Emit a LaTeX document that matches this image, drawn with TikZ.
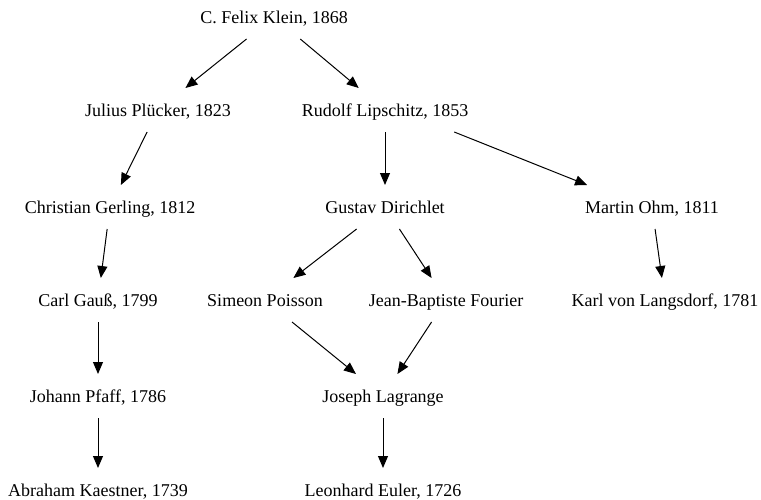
\documentclass[tikz,border=0pt]{standalone}
\usepackage{fontspec}
\setmainfont{Liberation Serif}
\usetikzlibrary{arrows.meta}
\tikzstyle{person}=[inner xsep=1pt, inner ysep=0pt, outer sep=0pt, minimum height=22pt, text height=6pt, text depth=0pt]
\tikzstyle{advisor}=[-{Triangle[length=6pt, width=5pt]}, line width=0.5pt]
\tikzstyle{genealogy}=[x=0.5pt, y=-0.5pt,
                       % Times-like labels as in the original graph.
                       every node/.style={font=\fontsize{9}{11}\selectfont}]
\begin{document}
\begin{tikzpicture}[genealogy]
        \useasboundingbox (0, 0) rectangle (761, 499);
        \node[person] (klein)     at (274, 17)  {C. Felix Klein, 1868};
        \node[person] (pluecker)  at (158, 110) {Julius Plücker, 1823};
        \node[person] (lipschitz) at (385, 110) {Rudolf Lipschitz, 1853};
        \node[person] (gerling)   at (110, 207) {Christian Gerling, 1812};
        \node[person] (dirichlet) at (385, 207) {Gustav Dirichlet};
        \node[person] (ohm)       at (652, 207) {Martin Ohm, 1811};
        \node[person] (gauss)     at (98, 300)  {Carl Gauß, 1799};
        \node[person] (poisson)   at (265, 300) {Simeon Poisson};
        \node[person] (fourier)   at (446, 300) {Jean-Baptiste Fourier};
        \node[person] (langsdorf) at (665, 300) {Karl von Langsdorf, 1781};
        \node[person] (pfaff)     at (98, 396)  {Johann Pfaff, 1786};
        \node[person] (lagrange)  at (383, 396) {Joseph Lagrange};
        \node[person] (kaestner)  at (98, 490)  {Abraham Kaestner, 1739};
        \node[person] (euler)     at (383, 490) {Leonhard Euler, 1726};
        \draw[advisor] (klein) -- (pluecker);
        \draw[advisor] (klein) -- (lipschitz);
        \draw[advisor] (pluecker) -- (gerling);
        \draw[advisor] (lipschitz) -- (dirichlet);
        \draw[advisor] ([xshift=-8pt]lipschitz.south east) -- ([xshift=2pt]ohm.north west);
        \draw[advisor] (gerling) -- (gauss);
        \draw[advisor] (dirichlet) -- (poisson);
        \draw[advisor] (dirichlet) -- (fourier);
        \draw[advisor] (ohm) -- (langsdorf);
        \draw[advisor] (gauss) -- (pfaff);
        \draw[advisor] (poisson) -- (lagrange);
        \draw[advisor] (fourier) -- (lagrange);
        \draw[advisor] (pfaff) -- (kaestner);
        \draw[advisor] (lagrange) -- (euler);
    \end{tikzpicture}
\end{document}
